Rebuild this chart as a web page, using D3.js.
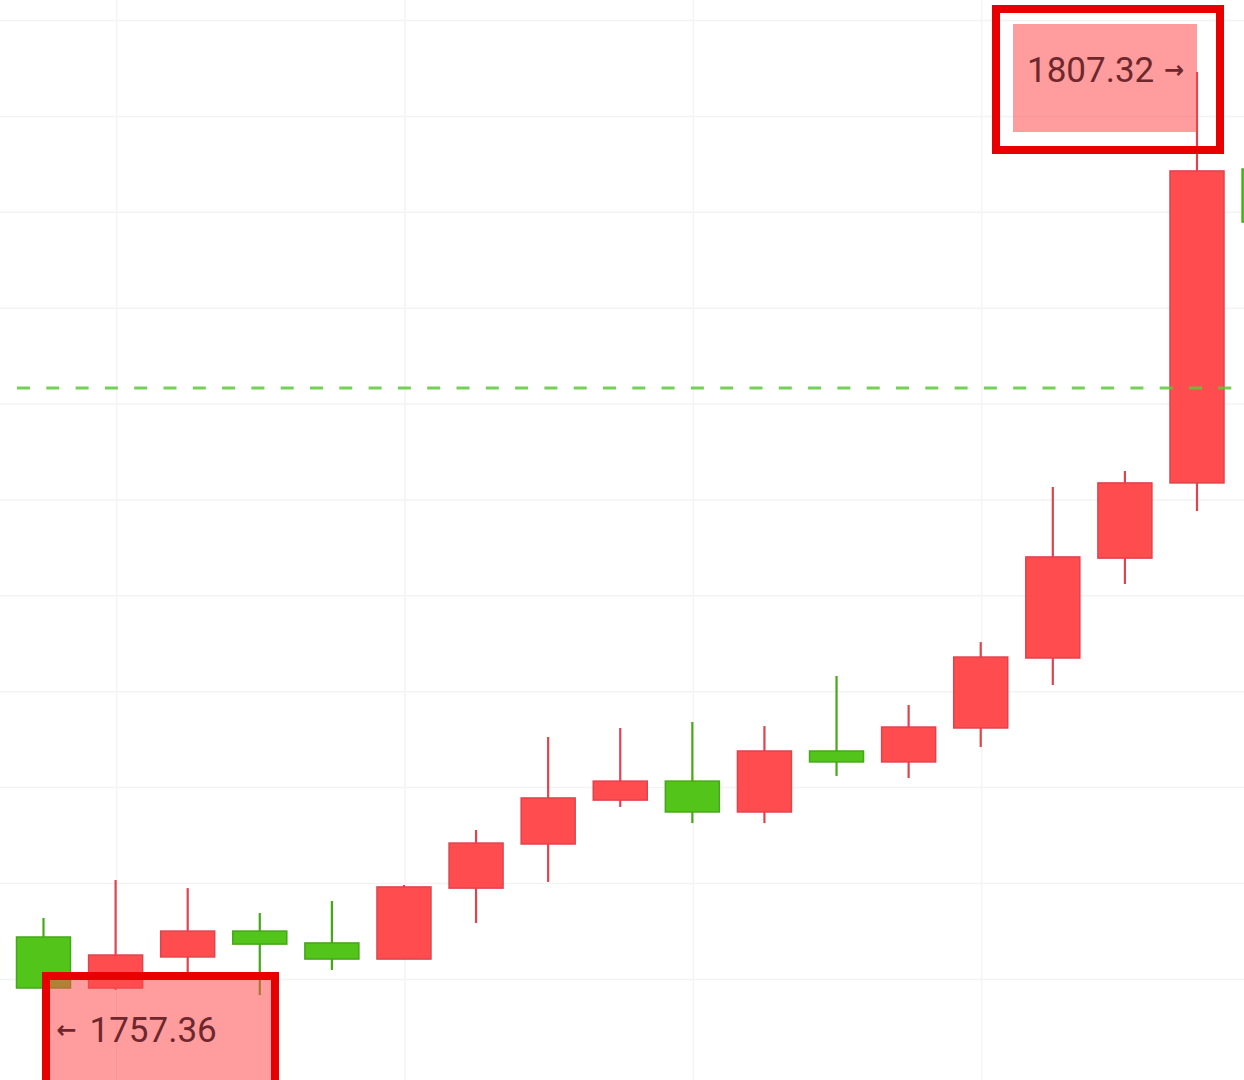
<!DOCTYPE html>
<html>
<head>
<meta charset="utf-8">
<script src="https://cdn.jsdelivr.net/npm/d3@7"></script>
<style>
  body { margin: 0; background: #fff; }
  svg { display: block; font-family: Roboto, "Noto Sans", sans-serif; }
</style>
</head>
<body>
<svg id="chart" width="1244" height="1080">
  <g id="grid"></g>
  <g id="candles"></g>
  <g id="level"></g>
  <g id="marks"></g>
</svg>
<script>
// candle index -1 and 17 are only partly on screen
let candle_index = [-1, 0, 1, 2, 3, 4, 5, 6, 7, 8, 9, 10, 11, 12, 13, 14, 15, 16, 17]
let opens  = [1767.01, 1762.21, 1759.55, 1761.17, 1762.52, 1761.90, 1761.06, 1764.76, 1767.06, 1769.35, 1770.34, 1768.73, 1771.91, 1771.34, 1773.11, 1776.76, 1781.97, 1785.89, 1802.26]
let highs  = [1767.27, 1763.20, 1765.18, 1764.76, 1763.46, 1764.09, 1764.92, 1767.79, 1772.64, 1773.11, 1773.42, 1773.21, 1775.82, 1774.31, 1777.59, 1785.68, 1786.51, 1807.32, 1803.00]
let lows   = [1763.62, 1759.55, 1759.45, 1760.23, 1759.18, 1760.49, 1761.06, 1762.94, 1765.08, 1768.99, 1768.15, 1768.15, 1770.61, 1770.50, 1772.12, 1775.35, 1780.62, 1784.43, 1799.00]
let closes = [1763.88, 1759.55, 1761.27, 1762.52, 1761.84, 1761.06, 1764.82, 1767.11, 1769.46, 1770.34, 1768.73, 1771.91, 1771.34, 1773.16, 1776.81, 1782.03, 1785.89, 1802.16, 1799.50]

let grid_prices = [1760, 1765, 1770, 1775, 1780, 1785, 1790, 1795, 1800, 1805, 1810]
let grid_candles = [1, 5, 9, 13, 17]

let level_price = 1790.84
let high_mark = {value: 1807.32, index: 16, label: "1807.32", arrow: "→"}
let low_mark = {value: 1757.36, index: 0, label: "1757.36", arrow: "←"}

let up_fill = "#ff4d4f", up_line = "#e0434b"
let down_fill = "#52c41a", down_line = "#45a818"
let mark_text = "#6e282c"

function make_scales() {
  return {
    x: d3.scaleLinear().domain([0, 16]).range([43.5, 1197]),
    y: d3.scaleLinear().domain([1757.36, 1807.32]).range([1030, 72])
  }
}

function draw_grid(scales) {
  let g = d3.select("#grid")
  g.selectAll("line.h")
    .data(grid_prices).enter()
    .append("line")
    .attr("class", "h")
    .attr("x1", 0).attr("x2", 1244)
    .attr("y1", d => scales.y(d)).attr("y2", d => scales.y(d))
    .attr("stroke", "#f3f3f3")
    .attr("stroke-width", 1.5)

  g.selectAll("line.v")
    .data(grid_candles).enter()
    .append("line")
    .attr("class", "v")
    .attr("x1", d => scales.x(d) + 1).attr("x2", d => scales.x(d) + 1)
    .attr("y1", 0).attr("y2", 1080)
    .attr("stroke", "#f4f4f4")
    .attr("stroke-width", 1.5)
}

function draw_candles(scales) {
  let data = candle_index.map((i, k) => ({
    i: i, open: opens[k], high: highs[k], low: lows[k], close: closes[k]
  }))
  let body_w = 54
  let g = d3.select("#candles")
    .selectAll("g")
    .data(data).enter()
    .append("g")
  let up = d => d.close >= d.open

  g.append("line")
    .attr("x1", d => scales.x(d.i)).attr("x2", d => scales.x(d.i))
    .attr("y1", d => scales.y(d.high)).attr("y2", d => scales.y(d.low))
    .attr("stroke", d => up(d) ? up_line : down_line)
    .attr("stroke-width", 2.2)

  g.append("rect")
    .attr("x", d => scales.x(d.i) - body_w / 2)
    .attr("width", body_w)
    .attr("y", d => scales.y(Math.max(d.open, d.close)))
    .attr("height", d => Math.max(1, Math.abs(scales.y(d.open) - scales.y(d.close))))
    .attr("fill", d => up(d) ? up_fill : down_fill)
    .attr("stroke", d => up(d) ? up_line : down_line)
    .attr("stroke-width", 1.5)
}

function draw_level(scales) {
  d3.select("#level")
    .append("line")
    .attr("x1", 17).attr("x2", 1244)
    .attr("y1", scales.y(level_price)).attr("y2", scales.y(level_price))
    .attr("stroke", "#5cc83a")
    .attr("stroke-opacity", 0.85)
    .attr("stroke-width", 2.8)
    .attr("stroke-dasharray", "13 16.3")
}

function add_label(g, x_label, x_arrow, y, mark) {
  let t = g.append("text")
    .attr("y", y)
    .attr("dominant-baseline", "central")
    .attr("fill", mark_text)
  t.append("tspan")
    .attr("x", x_label)
    .attr("font-size", 35)
    .text(mark.label)
  t.append("tspan")
    .attr("x", x_arrow)
    .attr("font-family", "DejaVu Sans")
    .attr("font-weight", "bold")
    .attr("font-size", 24)
    .text(mark.arrow)
  return t
}

function draw_marks(scales) {
  let g = d3.select("#marks")

  // highest price, label sits left of the wick
  let hx = scales.x(high_mark.index), hy = scales.y(high_mark.value)
  g.append("rect")
    .attr("x", hx - 184).attr("y", hy - 48)
    .attr("width", 184).attr("height", 108)
    .attr("fill", up_fill).attr("fill-opacity", 0.55)
  add_label(g, hx - 170, hx - 33, hy - 2, high_mark)
  g.append("rect")
    .attr("x", hx - 201).attr("y", hy - 63)
    .attr("width", 224).attr("height", 141)
    .attr("fill", "none")
    .attr("stroke", "#e80000")
    .attr("stroke-width", 8)

  // lowest price, label sits right of the candle
  let lx = scales.x(low_mark.index), ly = scales.y(low_mark.value)
  g.append("rect")
    .attr("x", lx + 0.5).attr("y", ly - 56)
    .attr("width", 233).attr("height", 140)
    .attr("fill", up_fill).attr("fill-opacity", 0.55)
  add_label(g, lx + 46, lx + 13, ly, low_mark)
  g.append("rect")
    .attr("x", lx + 2.5).attr("y", ly - 54)
    .attr("width", 229).attr("height", 141)
    .attr("fill", "none")
    .attr("stroke", "#e80000")
    .attr("stroke-width", 8)
}

let scales = make_scales()
draw_grid(scales)
draw_candles(scales)
draw_level(scales)
draw_marks(scales)
</script>
</body>
</html>
